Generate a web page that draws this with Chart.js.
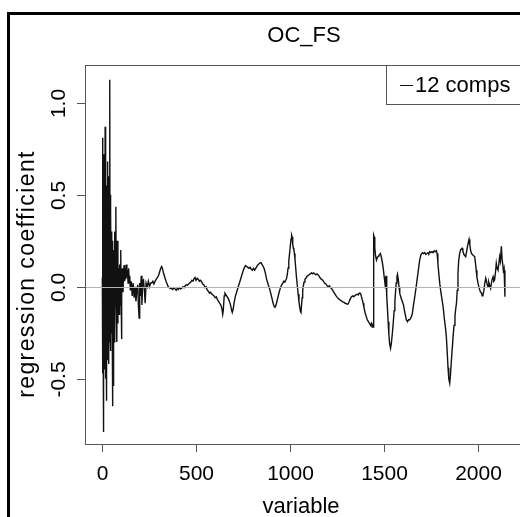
<!DOCTYPE html>
<html>
<head>
<meta charset="utf-8">
<script src="https://cdn.jsdelivr.net/npm/chart.js@4.4.1/dist/chart.umd.min.js"></script>
<style>
  html, body { margin: 0; padding: 0; background: #fff; overflow: hidden; }
  #plot { display: block; }
</style>
</head>
<body>
<canvas id="plot" width="560" height="517"></canvas>
<script>
// regression coefficients (variable index, coefficient)
const variables = [
  1,2,3,4,5,6,7,8,9,10,
  11,12,13,14,15,16,17,18,19,20,
  21,22,23,24,25,26,27,28,29,30,
  31,32,34,36,38,40,41,42,43,45,
  47,49,51,53,55,57,58,60,62,64,
  66,68,70,73,75,77,79,81,84,87,
  90,93,96,99,101,103,105,108,111,114,
  117,120,123,126,129,132,135,138,141,144,
  147,150,155,160,165,170,175,180,185,190,
  193,197,200,204,208,212,216,220,225,229,
  234,240,246,252,258,264,270,276,282,288,
  294,300,306,312,317,322,328,334,340,346,
  352,358,364,370,376,382,388,394,400,406,
  412,418,424,430,436,442,448,454,460,466,
  472,478,484,490,495,500,506,512,518,524,
  530,536,542,548,554,560,566,572,578,584,
  590,596,602,608,614,620,626,632,638,642,
  645,650,654,660,666,672,678,684,690,693,
  698,704,710,716,722,728,734,740,746,752,
  758,764,770,776,782,788,794,800,806,812,
  818,824,830,836,842,846,852,858,864,870,
  876,882,888,894,900,906,912,918,922,926,
  932,938,944,950,956,962,968,973,978,982,
  986,990,994,998,1002,1006,1009,1012,1015,1018,
  1021,1024,1027,1031,1035,1040,1044,1048,1052,1056,
  1059,1062,1065,1068,1071,1075,1080,1085,1090,1096,
  1102,1108,1115,1120,1126,1132,1138,1144,1151,1157,
  1163,1169,1175,1181,1186,1192,1198,1204,1210,1216,
  1222,1228,1234,1240,1246,1252,1258,1264,1270,1276,
  1282,1288,1294,1300,1306,1310,1316,1322,1328,1334,
  1340,1346,1352,1358,1364,1370,1376,1380,1385,1390,
  1394,1400,1406,1412,1418,1424,1430,1434,1438,1442,
  1444,1446,1449,1452,1456,1461,1466,1470,1473,1478,
  1482,1487,1493,1497,1502,1506,1509,1512,1514,1517,
  1520,1523,1527,1531,1536,1540,1545,1550,1555,1559,
  1562,1566,1570,1573,1577,1581,1585,1590,1595,1600,
  1605,1610,1615,1620,1626,1632,1638,1644,1648,1652,
  1658,1665,1671,1677,1684,1691,1698,1706,1712,1718,
  1724,1730,1736,1740,1745,1750,1756,1762,1768,1774,
  1780,1784,1788,1793,1798,1804,1810,1816,1822,1828,
  1833,1838,1842,1846,1851,1855,1860,1865,1869,1874,
  1879,1883,1887,1891,1895,1899,1904,1909,1913,1917,
  1921,1925,1930,1936,1941,1946,1950,1954,1958,1962,
  1967,1972,1977,1981,1984,1988,1992,1996,2002,2007,
  2014,2020,2024,2028,2033,2038,2043,2047,2051,2055,
  2059,2063,2069,2073,2077,2082,2086,2090,2095,2099,
  2103,2108,2112,2117,2121,2126,2130,2135,2138,2141,
  2145
];

const coefficients = [
  0.05,0.81,-0.47,0.45,-0.2,0.3,-0.79,0.55,-0.3,0.72,
  -0.25,0.2,-0.45,0.6,-0.1,0.87,-0.35,0.4,-0.5,0.3,
  -0.2,0.5,-0.62,0.2,-0.3,0.55,-0.15,0.68,-0.4,0.35,
  -0.25,0.45,-0.42,0.6,-0.3,0.2,1.125,-0.2,0.5,-0.35,
  0.4,-0.25,0.3,-0.1,-0.65,0.25,-0.2,-0.54,0.2,-0.3,
  0.3,-0.15,0.2,0.435,-0.1,0.15,-0.3,0.25,-0.2,0.1,
  -0.15,0.12,-0.1,0.2,-0.05,-0.285,0.05,0.1,-0.03,0.08,
  0.118,0.03,0.1,0.04,0.12,0.05,0.09,0.02,0.1,0.04,
  0.06,-0.02,0.03,-0.05,0.02,-0.06,0.0,-0.08,-0.02,0.01,
  -0.1,-0.17,0.02,-0.05,0.06,-0.1,0.03,0.036,-0.02,-0.09,
  0.02,0.0,0.03,0.0,0.02,0.02,0.03,0.015,0.03,0.04,
  0.05,0.06,0.08,0.1,0.11,0.095,0.07,0.05,0.03,0.015,
  0.0,-0.005,-0.01,-0.01,-0.015,-0.005,-0.012,-0.02,-0.01,-0.015,
  -0.005,-0.012,-0.008,0.0,-0.005,0.005,0.01,0.008,0.015,0.02,
  0.025,0.035,0.03,0.045,0.05,0.035,0.045,0.04,0.03,0.035,
  0.025,0.015,0.01,-0.005,0.0,-0.02,-0.025,-0.035,-0.03,-0.04,
  -0.045,-0.05,-0.06,-0.055,-0.07,-0.08,-0.09,-0.1,-0.12,-0.15,
  -0.13,-0.05,-0.036,-0.045,-0.055,-0.065,-0.08,-0.1,-0.13,-0.14,
  -0.12,-0.08,-0.05,-0.03,-0.01,0.01,0.03,0.05,0.07,0.09,
  0.105,0.115,0.11,0.105,0.1,0.105,0.095,0.09,0.1,0.09,
  0.1,0.11,0.12,0.125,0.13,0.13,0.12,0.11,0.095,0.07,
  0.04,0.02,0.0,-0.02,-0.045,-0.07,-0.095,-0.11,-0.11,-0.1,
  -0.075,-0.05,-0.025,-0.005,0.01,0.02,0.03,0.025,0.035,0.045,
  0.065,0.1,0.14,0.18,0.22,0.26,0.28,0.27,0.23,0.21,
  0.2,0.18,0.15,0.1,0.05,0.0,-0.04,-0.08,-0.11,-0.135,
  -0.14,-0.1,-0.06,-0.02,0.0,0.025,0.04,0.046,0.055,0.06,
  0.065,0.07,0.075,0.07,0.075,0.07,0.065,0.07,0.064,0.055,
  0.045,0.04,0.035,0.025,0.018,0.015,0.005,0.0,0.005,-0.005,
  -0.01,-0.02,-0.03,-0.04,-0.05,-0.058,-0.065,-0.07,-0.075,-0.078,
  -0.082,-0.085,-0.09,-0.092,-0.095,-0.094,-0.08,-0.065,-0.054,-0.05,
  -0.055,-0.048,-0.045,-0.04,-0.045,-0.035,-0.036,-0.05,-0.07,-0.09,
  -0.11,-0.14,-0.16,-0.18,-0.19,-0.2,-0.21,-0.2,-0.22,-0.215,
  -0.22,0.28,0.27,0.21,0.17,0.145,0.16,0.165,0.17,0.175,
  0.18,0.16,0.127,0.1,0.054,0.02,-0.009,0.06,0.054,-0.05,
  -0.13,-0.19,-0.26,-0.31,-0.335,-0.31,-0.26,-0.2,-0.13,-0.08,
  -0.036,0.02,0.055,0.067,0.04,0.0,-0.036,-0.055,-0.07,-0.085,
  -0.1,-0.13,-0.155,-0.18,-0.19,-0.18,-0.18,-0.17,-0.16,-0.145,
  -0.1,-0.054,-0.01,0.036,0.09,0.145,0.175,0.185,0.18,0.185,
  0.175,0.18,0.185,0.18,0.19,0.185,0.19,0.185,0.195,0.19,
  0.195,0.18,0.13,0.07,0.018,-0.03,-0.07,-0.109,-0.17,-0.22,
  -0.27,-0.36,-0.44,-0.5,-0.525,-0.48,-0.4,-0.33,-0.27,-0.21,
  -0.16,-0.12,-0.09,-0.02,0.07,0.145,0.18,0.2,0.205,0.209,
  0.195,0.18,0.17,0.163,0.19,0.22,0.24,0.258,0.23,0.2,
  0.18,0.175,0.17,0.165,0.163,0.13,0.09,0.05,0.018,-0.005,
  -0.027,-0.035,-0.05,-0.045,-0.02,0.02,0.046,0.03,0.01,0.0,
  0.025,0.01,-0.009,0.02,0.04,0.054,0.03,0.036,0.08,0.127,
  0.1,0.09,0.12,0.163,0.14,0.22,0.15,0.109,0.073,0.09,
  -0.054
];

const xTicks = [0, 500, 1000, 1500, 2000];
const yTicks = [-0.5, 0.0, 0.5, 1.0];
const yTickLabels = ['-0.5', '0.0', '0.5', '1.0'];
const seriesName = '12 comps';
const plotTitle = 'OC_FS';

const points = [];
for (let i = 0; i < Math.min(variables.length, coefficients.length); i++) {
  points.push({ x: variables[i], y: coefficients[i] });
}

const FONT = '"Liberation Sans", Arial, sans-serif';

// base-R look: box, ticks, rotated y labels, grey zero line, legend, outer frame
const rStyle = {
  id: 'rStyle',
  afterDatasetsDraw(chart) {
    const ctx = chart.ctx;
    const area = chart.chartArea;
    const y0 = Math.round(chart.scales.y.getPixelForValue(0)) + 0.5;
    ctx.save();
    ctx.strokeStyle = '#b4b4b4';
    ctx.lineWidth = 1;
    ctx.beginPath();
    ctx.moveTo(area.left, y0);
    ctx.lineTo(area.right, y0);
    ctx.stroke();
    ctx.restore();
  },
  afterDraw(chart) {
    const ctx = chart.ctx;
    const area = chart.chartArea;
    const xs = chart.scales.x;
    const ys = chart.scales.y;
    ctx.save();

    // plot box
    ctx.strokeStyle = '#555';
    ctx.lineWidth = 1;
    ctx.strokeRect(area.left - 0.5, area.top + 0.5, area.right - area.left, area.bottom - area.top);

    // x axis ticks and labels
    ctx.fillStyle = '#000';
    ctx.font = '21px ' + FONT;
    ctx.textAlign = 'center';
    ctx.textBaseline = 'alphabetic';
    xTicks.forEach(v => {
      const px = Math.round(xs.getPixelForValue(v)) + 0.5;
      ctx.beginPath();
      ctx.moveTo(px, area.bottom);
      ctx.lineTo(px, area.bottom + 8);
      ctx.stroke();
      ctx.fillText(String(v), px, 480);
    });

    // y axis ticks and rotated labels
    yTicks.forEach((v, i) => {
      const py = Math.round(ys.getPixelForValue(v)) + 0.5;
      ctx.beginPath();
      ctx.moveTo(area.left - 1, py);
      ctx.lineTo(area.left - 9, py);
      ctx.stroke();
      ctx.save();
      ctx.translate(65, py);
      ctx.rotate(-Math.PI / 2);
      ctx.fillText(yTickLabels[i], 0, 0);
      ctx.restore();
    });

    // titles
    ctx.font = '22px ' + FONT;
    ctx.fillText(plotTitle, 304, 42);
    ctx.fillText('variable', 301, 513);
    ctx.save();
    ctx.font = '23px ' + FONT;
    ctx.letterSpacing = '1.4px';
    ctx.translate(34, 274);
    ctx.rotate(-Math.PI / 2);
    ctx.fillText('regression coefficient', 0, 0);
    ctx.restore();

    // legend
    ctx.strokeStyle = '#555';
    ctx.strokeRect(386.5, area.top + 0.5, area.right - 386, 39);
    ctx.strokeStyle = '#111';
    ctx.beginPath();
    ctx.moveTo(400, 85.5);
    ctx.lineTo(413, 85.5);
    ctx.stroke();
    ctx.textAlign = 'left';
    ctx.font = '22px ' + FONT;
    ctx.fillText(seriesName, 415, 92);

    // outer frame
    ctx.strokeStyle = '#000';
    ctx.lineWidth = 3;
    ctx.strokeRect(8.5, 13.5, 700, 700);
    ctx.restore();
  }
};

new Chart(document.getElementById('plot'), {
  type: 'line',
  data: {
    datasets: [{
      label: seriesName,
      data: points,
      borderColor: '#111',
      borderWidth: 1.4,
      pointRadius: 0,
      tension: 0,
      fill: false
    }]
  },
  options: {
    responsive: false,
    animation: false,
    layout: { padding: { left: 86, top: 65, right: 38, bottom: 73 } },
    scales: {
      x: { type: 'linear', min: -86, max: 2236, display: false },
      y: { type: 'linear', min: -0.855, max: 1.205, display: false }
    },
    plugins: { legend: { display: false }, tooltip: { enabled: false } }
  },
  plugins: [rStyle]
});
</script>
</body>
</html>
